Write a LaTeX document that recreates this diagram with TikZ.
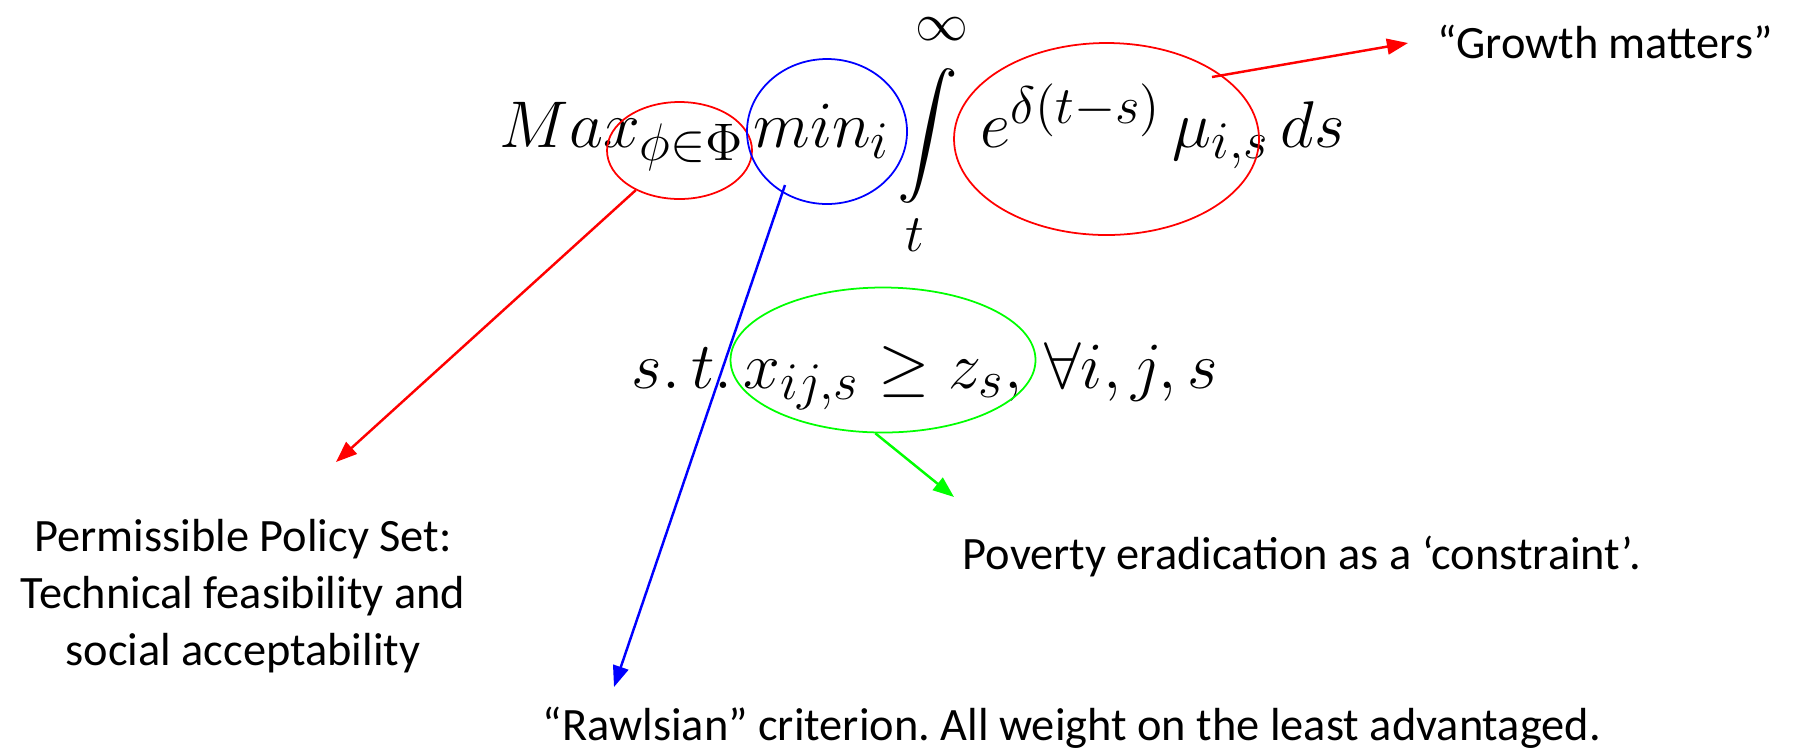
\RequirePackage{fix-cm}
\documentclass[tikz,border=0pt]{standalone}
\usepackage{amsmath}
\usepackage[no-math]{fontspec}
\setmainfont{Carlito}
\usetikzlibrary{arrows.meta, shapes.geometric}
\renewcommand\defaultscriptratio{.8}
\frenchspacing

\tikzset{
  ring/.style={draw, ellipse, inner sep=0pt, line width=0.5pt},
  pointer/.style={-{Triangle[length=6pt,width=4.5pt]}, line width=0.7pt},
  note/.style={font=\fontsize{13.2}{16.1}\selectfont, inner sep=0pt},
  eqn/.style={font=\fontsize{18.8}{22}\selectfont, inner sep=0pt, anchor=base west},
}

\begin{document}
\begin{tikzpicture}[x=0.1mm, y=-0.1mm]
  \useasboundingbox (0,0) rectangle (1795,749);

  % objective
  \node[eqn] (maxop) at (499,147) {$Max_{\phi\in\Phi}$};
  \node[eqn] (minop) at (753,147) {$min_i$};
  \node[eqn, anchor=base] (intop) at (928,152)
    {$\displaystyle\int\limits_{\rule{0pt}{11pt}t}^{\rule[-6pt]{0pt}{6pt}\infty}$};
  \node[eqn] (flow) at (980,147) {$e^{\delta(t-s)}\,\mu_{i,s}\,ds$};
  % constraint
  \node[eqn] (constr) at (631,388) {$s.\,t.\,x_{ij,s}\geq z_s,\,\forall i,j,s$};

  % circled parts
  \node[ring, red, minimum width=14.5mm, minimum height=9.7mm] (phiring) at (679.5,150.5) {};
  \node[ring, blue, minimum width=16mm, minimum height=14.5mm] (minring) at (827,131.5) {};
  \node[ring, red, minimum width=30.5mm, minimum height=19.2mm] (flowring) at (1106.5,139) {};
  \node[ring, green, minimum width=30.5mm, minimum height=14.5mm] (povring) at (883,360) {};

  % labels
  \node[note, anchor=base west] (growth) at (1437,58) {“Growth matters”};
  \node[note, align=center, anchor=north] (policy) at (243,519)
    {Permissible Policy Set:\\ Technical feasibility and\\ social acceptability};
  \node[note, anchor=base west] (poverty) at (962,569) {Poverty eradication as a ‘constraint’.};
  \node[note, anchor=base west] (rawls) at (542,740)
    {“Rawlsian” criterion. All weight on the least advantaged.};

  % arrow ends
  \coordinate (growthfoot) at (1212,77);
  \coordinate (growthtip) at (1408,43);
  \coordinate (minfoot) at (785,185);
  \coordinate (rawlstip) at (614,687);
  \coordinate (policytip) at (336,462);
  \coordinate (povtip) at (954,497);

  \draw[pointer, red] (growthfoot) -- (growthtip);
  \draw[pointer, red] (phiring) -- (policytip);
  \draw[pointer, blue] (minfoot) -- (rawlstip);
  \draw[pointer, green] (povring.-96) -- (povtip);
\end{tikzpicture}
\end{document}
